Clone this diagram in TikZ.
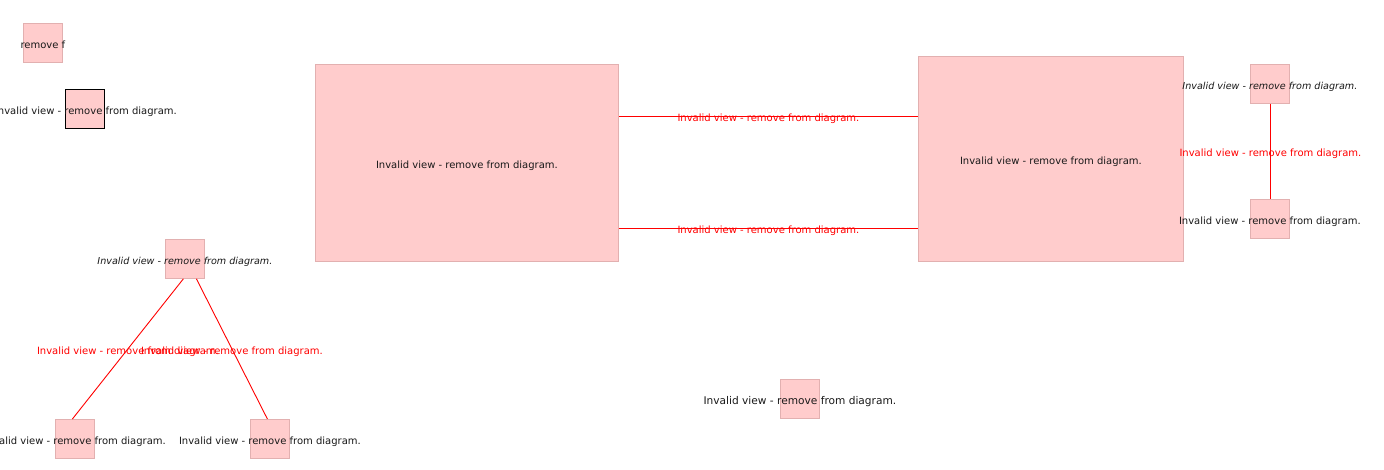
\documentclass[tikz,border=0pt]{standalone}
\usepackage{fontspec}
\setmainfont{DejaVu Sans}
\usetikzlibrary{calc}
\definecolor{viewfill}{RGB}{255,204,204}
\definecolor{viewedge}{RGB}{226,176,176}
\definecolor{linkred}{RGB}{255,0,0}
\begin{document}
\begin{tikzpicture}[x=1pt,y=-1pt,
  view/.style={draw=viewedge,fill=viewfill,line width=0.8pt,inner sep=0pt,anchor=north west},
  caption/.style={font=\fontsize{10}{12}\selectfont,text=black!90,inner sep=0pt,yshift=-3pt},
  italcap/.style={caption,font=\fontsize{9.6}{12}\selectfont\itshape},
  link/.style={draw=linkred,line width=0.9pt},
  linklabel/.style={font=\fontsize{10}{12}\selectfont,text=linkred,inner sep=0pt,yshift=-2.5pt}]
\useasboundingbox (0,0) rectangle (1384,469);
\fill[white] (0,0) rectangle (1384,469);

% small views, top left
\node[view,minimum width=39pt,minimum height=39pt] (a) at (23,23) {};
\node[caption,yshift=1pt] at (a.center) {remove f};
\node[view,draw=black,minimum width=39pt,minimum height=39pt] (b) at (65,89) {};
\node[caption,xshift=1pt] at (b.center) {Invalid view - remove from diagram.};

% tree of views, bottom left
\node[view,minimum width=39pt,minimum height=39pt] (c) at (165,239) {};
\node[italcap] at (c.center) {Invalid view - remove from diagram.};
\node[view,minimum width=39pt,minimum height=39pt] (d) at (55,419) {};
\node[caption] at (d.center) {Invalid view - remove from diagram.};
\node[view,minimum width=39pt,minimum height=39pt] (e) at (250,419) {};
\node[caption] at (e.center) {Invalid view - remove from diagram.};
\draw[link] ([xshift=-1.5pt]c.south) -- node[linklabel]{Invalid view - remove from diagram.} ([xshift=-2.5pt]d.north);
\draw[link] ([xshift=11.5pt]c.south) -- node[linklabel]{Invalid view - remove from diagram.} ([xshift=-2.5pt]e.north);

% large views and their links
\node[view,minimum width=303pt,minimum height=197pt] (f) at (315,64) {};
\node[caption] at (f.center) {Invalid view - remove from diagram.};
\node[view,minimum width=265pt,minimum height=205pt] (g) at (918,56) {};
\node[caption] at (g.center) {Invalid view - remove from diagram.};
\coordinate (row1) at (0,116);
\coordinate (row2) at (0,228);
\draw[link] (f.east |- row1) -- node[linklabel]{Invalid view - remove from diagram.} (g.west |- row1);
\draw[link] (f.east |- row2) -- node[linklabel]{Invalid view - remove from diagram.} (g.west |- row2);

% pair of views, right
\node[view,minimum width=39pt,minimum height=39pt] (h) at (1250,64) {};
\node[italcap] at (h.center) {Invalid view - remove from diagram.};
\node[view,minimum width=39pt,minimum height=39pt] (i) at (1250,199) {};
\node[caption] at (i.center) {Invalid view - remove from diagram.};
\draw[link] ([xshift=0.5pt]h.south) -- node[linklabel]{Invalid view - remove from diagram.} ([xshift=0.5pt]i.north);

% lone view, bottom
\node[view,minimum width=39pt,minimum height=39pt] (j) at (780,379) {};
\node[caption,font=\fontsize{10.6}{12}\selectfont] at (j.center) {Invalid view - remove from diagram.};
\end{tikzpicture}
\end{document}
